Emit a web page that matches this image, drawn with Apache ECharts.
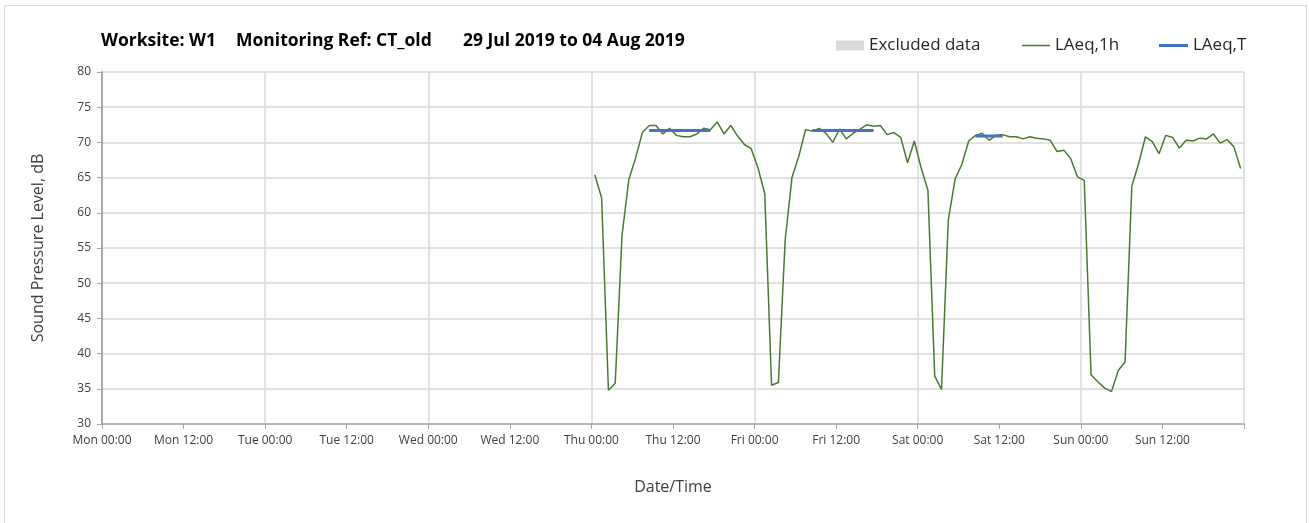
<!DOCTYPE html>
<html>
<head>
<meta charset="utf-8">
<script src="https://cdn.jsdelivr.net/npm/echarts@6/dist/echarts.min.js"></script>
<style>
html,body{margin:0;padding:0;background:#fff;}
#c{width:1309px;height:523px;}
</style>
</head>
<body>
<div id="c"></div>
<script>
// Hourly LAeq,1h values, one per hour (samples at hh:30), per day
const thuStartHour = 72; // Thu 00:00, hours after Mon 00:00
const laeq1hThu = [65.4,62.1,34.8,35.8,56.8,64.7,67.8,71.4,72.4,72.4,71.2,72.0,71.0,70.8,70.8,71.2,72.0,71.8,72.9,71.2,72.4,70.9,69.7,69.1];
const laeq1hFri = [66.4,62.7,35.5,35.9,56.1,65.0,68.0,71.8,71.6,72.0,71.3,70.0,71.9,70.5,71.3,71.9,72.5,72.3,72.4,71.1,71.4,70.7,67.1,70.2];
const laeq1hSat = [66.4,63.2,36.8,34.9,59.0,64.8,66.9,70.2,71.0,71.3,70.3,71.0,71.1,70.8,70.8,70.5,70.8,70.6,70.5,70.3,68.7,68.9,67.7,65.1];
const laeq1hSun = [64.6,37.0,36.0,35.1,34.6,37.6,38.8,63.8,67.0,70.8,70.1,68.4,71.0,70.7,69.2,70.3,70.2,70.6,70.5,71.2,69.9,70.4,69.4,66.3];

// LAeq,T periods: [start hour, end hour, value]
const laeqTThu = [80.5, 89.5, 71.7];
const laeqTFri = [104.5, 113.5, 71.7];
const laeqTSat = [128.5, 132.5, 70.9];

const dayNames = ['Mon','Tue','Wed','Thu','Fri','Sat','Sun'];
const yTicks = [30,35,40,45,50,55,60,65,70,75,80];

const days = [laeq1hThu, laeq1hFri, laeq1hSat, laeq1hSun];
const laeq1h = [];
days.forEach((arr, d) => arr.forEach((v, i) => laeq1h.push([thuStartHour + d*24 + i + 0.5, v])));

function periodLine(p){ return [[p[0], p[2]], [p[1], p[2]]]; }

const FONT = 'Open Sans';
const chart = echarts.init(document.getElementById('c'), null, {renderer:'canvas'});
const fmtX = v => {
  const d = Math.floor(v/24), h = v % 24;
  if (d >= dayNames.length) return '';
  return dayNames[d] + ' ' + (h === 0 ? '00:00' : '12:00');
};
const titleStyle = {fontFamily:FONT, fontSize:17.5, fontWeight:'bold', color:'#000'};
const legendText = {fontFamily:FONT, fontSize:17, color:'#262626'};
chart.setOption({
  animation:false,
  textStyle:{fontFamily:FONT},
  graphic:[{type:'rect', shape:{x:4.5,y:5.5,width:1302,height:540}, style:{fill:null, stroke:'#d9d9d9', lineWidth:1}, silent:true}],
  title:[
    {text:'Worksite: W1', left:96, top:27, textStyle:titleStyle},
    {text:'Monitoring Ref: CT_old', left:231, top:27, textStyle:titleStyle},
    {text:'29 Jul 2019 to 04 Aug 2019', left:458, top:27, textStyle:titleStyle}
  ],
  legend:[
    {data:[{name:'Excluded data', icon:'rect'}], left:831, top:32, itemWidth:28, itemHeight:10, itemGap:5, textStyle:legendText},
    {data:[{name:'LAeq,1h', icon:'rect'}], left:1017, top:32, itemWidth:28, itemHeight:1.5, textStyle:legendText},
    {data:[{name:'LAeq,T', icon:'rect'}], left:1154, top:32, itemWidth:29, itemHeight:3, textStyle:legendText}
  ],
  grid:{left:102, right:65, top:72, bottom:99, containLabel:false},
  xAxis:[
    {type:'value', min:0, max:168, interval:12,
     name:'Date/Time', nameLocation:'middle', nameGap:55,
     nameTextStyle:{fontFamily:FONT, fontSize:16, color:'#404040'},
     axisLine:{show:true, lineStyle:{color:'#a6a6a6', width:1.5}},
     axisTick:{show:true, length:5, lineStyle:{color:'#a6a6a6'}},
     axisLabel:{formatter:fmtX, fontFamily:FONT, fontSize:12, color:'#404040', margin:11},
     splitLine:{show:false}},
    {type:'value', min:0, max:168, interval:24, position:'bottom',
     axisLine:{show:false}, axisTick:{show:false}, axisLabel:{show:false},
     splitLine:{show:true, lineStyle:{color:'#d9d9d9', width:1.5}}}
  ],
  yAxis:[
    {type:'value', min:30, max:80, interval:5,
     name:'Sound Pressure Level, dB', nameLocation:'middle', nameGap:56, nameRotate:90,
     nameTextStyle:{fontFamily:FONT, fontSize:16, color:'#404040'},
     axisLine:{show:true, lineStyle:{color:'#a6a6a6', width:1.5}},
     axisTick:{show:true, length:5, lineStyle:{color:'#a6a6a6'}},
     axisLabel:{fontFamily:FONT, fontSize:12, color:'#404040', margin:11},
     splitLine:{show:true, lineStyle:{color:'#d9d9d9', width:1.5}}},
    {type:'value', min:30, max:80, interval:5, position:'right',
     axisLine:{show:true, lineStyle:{color:'#a6a6a6', width:1.5}},
     axisTick:{show:false}, axisLabel:{show:false}, splitLine:{show:false}}
  ],
  series:[
    {name:'Excluded data', type:'bar', data:[], itemStyle:{color:'#d9d9d9'}},
    {name:'LAeq,1h', type:'line', data:laeq1h, symbol:'none', lineStyle:{color:'#4a7a32', width:1.5}, itemStyle:{color:'#4a7a32'}},
    {name:'LAeq,T', type:'line', data:periodLine(laeqTThu), symbol:'none', lineStyle:{color:'#4472c4', width:3}, itemStyle:{color:'#4472c4'}, z:3},
    {name:'LAeq,T', type:'line', data:periodLine(laeqTFri), symbol:'none', lineStyle:{color:'#4472c4', width:3}, itemStyle:{color:'#4472c4'}, z:3},
    {name:'LAeq,T', type:'line', data:periodLine(laeqTSat), symbol:'none', lineStyle:{color:'#4472c4', width:3}, itemStyle:{color:'#4472c4'}, z:3}
  ]
});
</script>
</body>
</html>
